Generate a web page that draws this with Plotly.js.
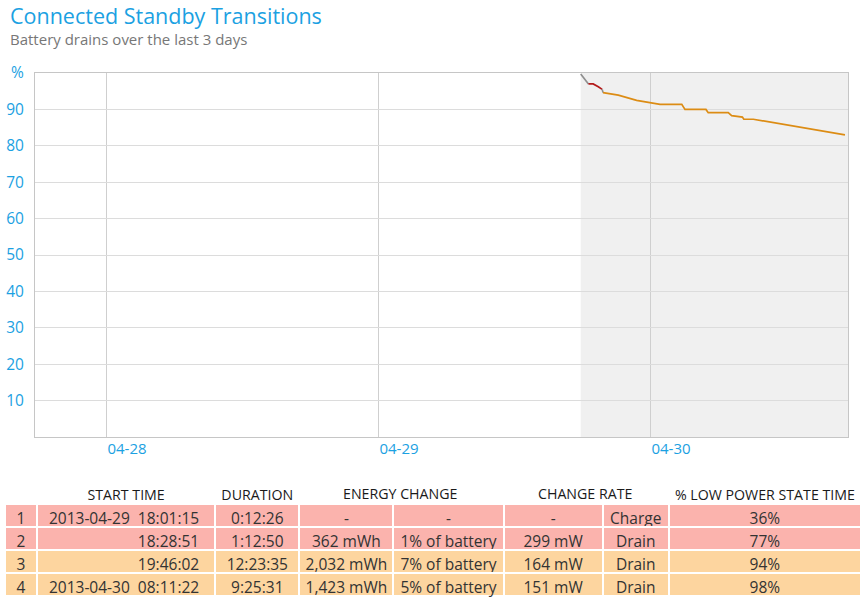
<!DOCTYPE html>
<html><head><meta charset="utf-8">
<script src="https://cdn.plot.ly/plotly-3.0.1.min.js"></script>
<style>html,body{margin:0;padding:0;background:#fff}#chart{width:866px;height:608px}</style>
</head><body><div id="chart"></div>
<script>
// ---- line data (battery %) ----
const preTime = ["2013-04-29 17:48:00", "2013-04-29 18:28:51"];
const prePct = [99.7, 97.0];
const drainHighTime = ["2013-04-29 18:28:51", "2013-04-29 18:54:00", "2013-04-29 19:21:00", "2013-04-29 19:41:41"];
const drainHighPct = [97.0, 97.0, 96.2, 95.5];
const gapTime = ["2013-04-29 19:41:41", "2013-04-29 19:46:02"];
const gapPct = [95.5, 94.6];
const drainTime = ["2013-04-29 19:46:02", "2013-04-29 21:07:00", "2013-04-29 22:44:00", "2013-04-30 00:48:00",
  "2013-04-30 02:43:00", "2013-04-30 03:00:00", "2013-04-30 04:51:00", "2013-04-30 05:03:00",
  "2013-04-30 06:49:00", "2013-04-30 07:07:00", "2013-04-30 08:04:00", "2013-04-30 08:11:22",
  "2013-04-30 09:02:00", "2013-04-30 11:05:00", "2013-04-30 13:09:00", "2013-04-30 15:12:00",
  "2013-04-30 17:07:00"];
const drainPct = [94.6, 93.9, 92.5, 91.4, 91.4, 90.0, 90.0, 89.1, 89.1, 88.3, 87.9, 87.3, 87.3, 86.2, 85.2, 84.1, 83.0];

// ---- axes ----
const xRange = ["2013-04-27 17:39:00", "2013-04-30 17:23:00"];
const dayTicks = ["2013-04-28", "2013-04-29", "2013-04-30"];
const dayLabels = ["04-28", "04-29", "04-30"];
const pctTicks = [10, 20, 30, 40, 50, 60, 70, 80, 90, 100];
const pctLabels = ["10", "20", "30", "40", "50", "60", "70", "80", "90", "%"];

// ---- table data ----
const rowNum = ["1", "2", "3", "4"];
const startTime = ["2013-04-29\u00a0\u00a018:01:15\u00a0\u00a0", "18:28:51\u00a0\u00a0", "19:46:02\u00a0\u00a0", "2013-04-30\u00a0\u00a008:11:22\u00a0\u00a0"];
const duration = ["0:12:26", "1:12:50", "12:23:35", "9:25:31"];
const energyMWh = ["-", "362\u00a0mWh", "2,032\u00a0mWh", "1,423\u00a0mWh"];
const energyPct = ["-", "1%\u00a0of\u00a0battery", "7%\u00a0of\u00a0battery", "5%\u00a0of\u00a0battery"];
const rateMW = ["-", "299\u00a0mW", "164\u00a0mW", "151\u00a0mW"];
const rateType = ["Charge", "Drain", "Drain", "Drain"];
const lowPower = ["36%", "77%", "94%", "98%"];
const rowColors = ["#fbb3ad", "#fbb3ad", "#fdd59f", "#fdd59f"];
const headers = ["", "START\u00a0TIME", "DURATION", "", "", "", "", "%\u00a0LOW\u00a0POWER\u00a0STATE\u00a0TIME"];

const W = 866, H = 608;
const px = v => v / W, py = v => 1 - v / H;
const FONT = "Open Sans, Noto Sans, sans-serif";

const lineTrace = (x, y, color) => ({
  type: "scatter", mode: "lines", x: x, y: y, xaxis: "x", yaxis: "y",
  line: {color: color, width: 1.7}, hoverinfo: "skip", showlegend: false
});

const cols = [rowNum, startTime, duration, energyMWh, energyPct, rateMW, rateType, lowPower];
const table = {
  type: "table",
  domain: {x: [px(5), px(861)], y: [py(598), py(481)]},
  columnwidth: [32, 178, 84, 94, 110, 99, 66, 192],
  header: {
    values: headers,
    align: "center",
    height: 23,
    fill: {color: "#ffffff"},
    line: {color: "#ffffff", width: 2},
    font: {family: FONT, size: 14.2, color: "#1a1a1a"}
  },
  cells: {
    values: cols,
    align: ["center", "right", "center", "center", "center", "center", "center", "center"],
    height: 23,
    fill: {color: cols.map(() => rowColors)},
    line: {color: "#ffffff", width: 2},
    font: {family: FONT, size: 15.5, color: "#333333"}
  }
};

const data = [
  lineTrace(preTime, prePct, "#8f8f8f"),
  lineTrace(drainHighTime, drainHighPct, "#b31b1b"),
  lineTrace(gapTime, gapPct, "#8f8f8f"),
  lineTrace(drainTime, drainPct, "#dc8c14"),
  table
];

const blue = "#1ba1e2";
const layout = {
  width: W, height: H,
  margin: {l: 0, r: 0, t: 0, b: 0},
  paper_bgcolor: "#ffffff", plot_bgcolor: "#ffffff",
  showlegend: false,
  font: {family: FONT},
  xaxis: {
    type: "date", range: xRange, domain: [px(35), px(848)], automargin: false,
    tickmode: "array", tickvals: dayTicks, ticktext: dayLabels,
    showgrid: true, gridcolor: "#cfcfcf", gridwidth: 1,
    showline: true, linecolor: "#c6c6c6", linewidth: 1, mirror: true,
    ticks: "", ticklabelshift: 20, ticklabelstandoff: -2,
    tickfont: {size: 15, color: blue}, zeroline: false, fixedrange: true
  },
  yaxis: {
    range: [0, 100], domain: [py(437), py(73)], automargin: false,
    tickmode: "array", tickvals: pctTicks, ticktext: pctLabels,
    showgrid: true, gridcolor: "#dcdcdc", gridwidth: 1,
    showline: true, linecolor: "#c6c6c6", linewidth: 1, mirror: true,
    ticks: "", ticklabelstandoff: 7,
    tickfont: {size: 15.5, color: blue}, zeroline: false, fixedrange: true
  },
  shapes: [{
    type: "rect", xref: "x", yref: "paper", layer: "below",
    x0: preTime[0], x1: xRange[1], y0: py(437), y1: py(73),
    fillcolor: "#f0f0f0", line: {width: 0}
  }],
  annotations: [
    {text: "Connected Standby Transitions", xref: "paper", yref: "paper", x: px(8), y: py(16),
     xanchor: "left", yanchor: "middle", showarrow: false,
     font: {family: FONT, size: 21.5, color: blue}},
    {text: "Battery drains over the last 3 days", xref: "paper", yref: "paper", x: px(8), y: py(39),
     xanchor: "left", yanchor: "middle", showarrow: false,
     font: {family: FONT, size: 15, color: "#777777"}},
    {text: "ENERGY CHANGE", xref: "paper", yref: "paper", x: px(400), y: py(493),
     xanchor: "center", yanchor: "middle", showarrow: false,
     font: {family: FONT, size: 14.2, color: "#1a1a1a"}},
    {text: "CHANGE RATE", xref: "paper", yref: "paper", x: px(585), y: py(493),
     xanchor: "center", yanchor: "middle", showarrow: false,
     font: {family: FONT, size: 14.2, color: "#1a1a1a"}}
  ]
};

Plotly.newPlot("chart", data, layout, {displayModeBar: false, staticPlot: true});
</script>
</body></html>
